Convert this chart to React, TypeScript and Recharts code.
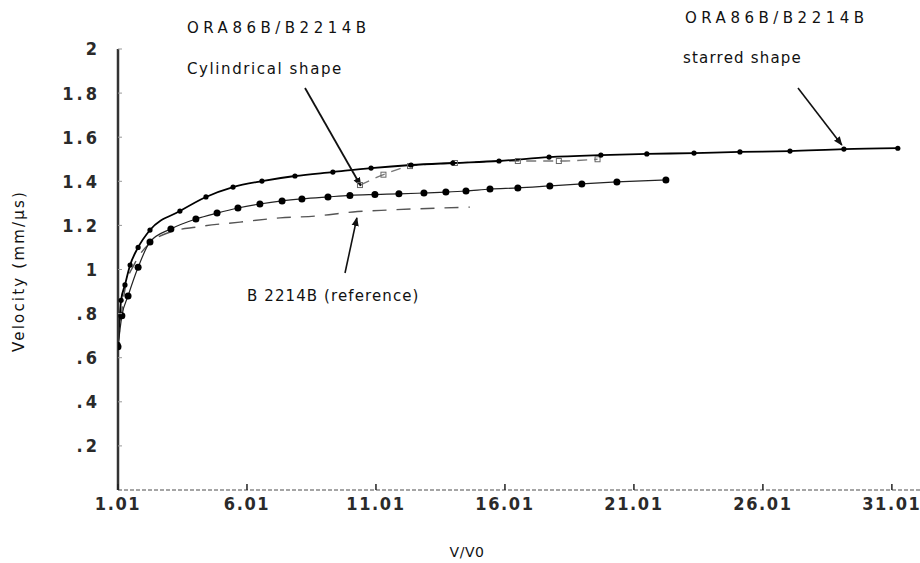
import React from "react";
import {
  ComposedChart,
  Line,
  XAxis,
  YAxis,
  ReferenceLine,
  Customized,
} from "recharts";

// ---- data ----
const xTicks = [1.01, 6.01, 11.01, 16.01, 21.01, 26.01, 31.01];
const xTickLabels = ["1.01", "6.01", "11.01", "16.01", "21.01", "26.01", "31.01"];
const yTicks = [0.2, 0.4, 0.6, 0.8, 1, 1.2, 1.4, 1.6, 1.8, 2];
const yTickLabels = [".2", ".4", ".6", ".8", "1", "1.2", "1.4", "1.6", "1.8", "2"];

// ORA86B/B2214B starred shape (upper solid line, small dots)
const starredX = [1.01, 1.13, 1.28, 1.48, 1.79, 2.25, 3.41, 4.42, 5.47, 6.59, 7.87, 9.34, 10.82, 12.37, 13.99, 15.78, 17.72, 19.73, 21.51, 23.34, 25.12, 27.06, 29.15, 31.24];
const starredY = [0.66, 0.86, 0.93, 1.02, 1.1, 1.179, 1.265, 1.329, 1.374, 1.401, 1.424, 1.442, 1.46, 1.474, 1.483, 1.492, 1.51, 1.519, 1.524, 1.528, 1.533, 1.537, 1.546, 1.55];

// ORA86B/B2214B cylindrical shape (dashed, light)
const cylX = [10.39, 11.3, 12.33, 14.07, 16.51, 18.1, 19.6];
const cylY = [1.383, 1.43, 1.469, 1.483, 1.492, 1.492, 1.5];

// middle dotted curve
const midX = [1.01, 1.16, 1.4, 1.79, 2.25, 3.06, 4.03, 4.85, 5.66, 6.51, 7.37, 8.14, 9.15, 10.0, 10.97, 11.9, 12.87, 13.72, 14.5, 15.43, 16.51, 17.75, 18.99, 20.35, 22.25];
const midY = [0.65, 0.79, 0.88, 1.01, 1.125, 1.184, 1.229, 1.256, 1.279, 1.297, 1.311, 1.32, 1.329, 1.336, 1.34, 1.343, 1.347, 1.351, 1.356, 1.365, 1.37, 1.379, 1.388, 1.397, 1.406];

// B 2214B (reference), lower dashed curve
const refX = [1.01, 1.28, 1.67, 2.25, 3.03, 4.07, 5.74, 7.29, 8.72, 10.12, 11.55, 14.65];
const refY = [0.66, 0.91, 1.03, 1.12, 1.17, 1.193, 1.215, 1.234, 1.243, 1.261, 1.27, 1.283];

const toRows = (xs: number[], ys: number[]) => xs.map((x, i) => ({ x, y: ys[i] }));
const starredData = toRows(starredX, starredY);
const cylData = toRows(cylX, cylY);
const midData = toRows(midX, midY);
const refData = toRows(refX, refY);

const TICK_FONT = "'DejaVu Sans Condensed', 'Liberation Sans Narrow', sans-serif";
const TEXT_FONT = "'DejaVu Sans', sans-serif";
const X_MARGIN = 6;
const Y_MARGIN = 18;

const XTick = (props: any) => {
  const { x, y, index } = props;
  const ay = y - X_MARGIN;
  return (
    <g>
      <line x1={x} y1={ay} x2={x} y2={ay - 6} stroke="#222" strokeWidth={1.5} />
      <text
        x={x}
        y={y}
        dy="0.8em"
        textAnchor="middle"
        fontFamily={TICK_FONT}
        fontWeight="bold"
        fontSize={18}
        letterSpacing={1.6}
        fill="#2a2a2a"
      >
        {xTickLabels[index]}
      </text>
    </g>
  );
};

const YTick = (props: any) => {
  const { x, y, index } = props;
  const ax = x + Y_MARGIN;
  return (
    <g>
      <line x1={ax} y1={y} x2={ax + 4} y2={y} stroke="#999" strokeWidth={1} />
      <text
        x={x}
        y={y}
        dy="0.36em"
        textAnchor="end"
        fontFamily={TICK_FONT}
        fontWeight="bold"
        fontSize={18}
        letterSpacing={3}
        fill="#2a2a2a"
      >
        {yTickLabels[index]}
      </text>
    </g>
  );
};

const SquareDot = (props: any) => {
  const { cx, cy } = props;
  if (cx == null || cy == null) return null;
  return <rect x={cx - 2.5} y={cy - 2.5} width={5} height={5} fill="none" stroke="#666" strokeWidth={1} />;
};

const Annotations = () => (
  <g fontFamily={TEXT_FONT} fontSize={15} fill="#111">
    <text x={187} y={33} letterSpacing={4.5}>ORA86B/B2214B</text>
    <text x={187} y={74} letterSpacing={1.6}>Cylindrical shape</text>
    <text x={685} y={23} letterSpacing={4.5}>ORA86B/B2214B</text>
    <text x={683} y={63} letterSpacing={1.2}>starred shape</text>
    <text x={247} y={301} letterSpacing={1.1}>B 2214B (reference)</text>
    <text x={467} y={557} textAnchor="middle" fontSize={14} letterSpacing={0.5}>V/V0</text>
    <text
      x={0}
      y={0}
      transform="translate(24,271) rotate(-90)"
      textAnchor="middle"
      fontSize={15}
      letterSpacing={2.2}
    >
      Velocity (mm/µs)
    </text>
  </g>
);

export default function App() {
  return (
    <div style={{ position: "absolute", left: 0, top: 0, background: "#fff" }}>
      <svg width={0} height={0} style={{ position: "absolute" }}>
        <defs>
          <marker id="arrowHead" viewBox="0 0 10 10" refX="9" refY="5" markerWidth="9" markerHeight="9" orient="auto" markerUnits="userSpaceOnUse">
            <path d="M0,1 L10,5 L0,9 z" fill="#111" />
          </marker>
        </defs>
      </svg>
      <ComposedChart
        width={920}
        height={563}
        margin={{ top: 49, right: 0, bottom: 0, left: 0 }}
        style={{ background: "#fff" }}
      >
        <XAxis
          type="number"
          dataKey="x"
          domain={[1.01, 32.1]}
          ticks={xTicks}
          allowDataOverflow
          tickSize={0}
          tickMargin={X_MARGIN}
          tickLine={false}
          axisLine={{ stroke: "#888", strokeWidth: 1.5, strokeDasharray: "4 2" }}
          tick={<XTick />}
          interval={0}
          height={73}
        />
        <YAxis
          type="number"
          dataKey="y"
          domain={[0, 2]}
          ticks={yTicks}
          allowDataOverflow
          tickSize={0}
          tickMargin={Y_MARGIN}
          tickLine={false}
          axisLine={{ stroke: "#333", strokeWidth: 2.5 }}
          tick={<YTick />}
          interval={0}
          width={118}
        />
        <Line
          data={refData}
          dataKey="y"
          type="monotone"
          stroke="#555"
          strokeWidth={1.4}
          strokeDasharray="14 10"
          dot={false}
          isAnimationActive={false}
        />
        <Line
          data={cylData}
          dataKey="y"
          type="monotone"
          stroke="#777"
          strokeWidth={1.3}
          strokeDasharray="10 7"
          dot={<SquareDot />}
          isAnimationActive={false}
        />
        <Line
          data={midData}
          dataKey="y"
          type="monotone"
          stroke="#222"
          strokeWidth={1.2}
          dot={{ r: 3.5, fill: "#000", stroke: "#000", strokeWidth: 0 }}
          isAnimationActive={false}
        />
        <Line
          data={starredData}
          dataKey="y"
          type="monotone"
          stroke="#000"
          strokeWidth={1.8}
          dot={{ r: 2.6, fill: "#000", stroke: "#000", strokeWidth: 0 }}
          isAnimationActive={false}
        />
        <ReferenceLine
          segment={[{ x: 8.26, y: 1.823 }, { x: 10.42, y: 1.38 }]}
          stroke="#111"
          strokeWidth={1.8}
          markerEnd="url(#arrowHead)"
          ifOverflow="visible"
        />
        <ReferenceLine
          segment={[{ x: 27.37, y: 1.823 }, { x: 29.07, y: 1.565 }]}
          stroke="#111"
          strokeWidth={1.6}
          markerEnd="url(#arrowHead)"
          ifOverflow="visible"
        />
        <ReferenceLine
          segment={[{ x: 9.81, y: 0.984 }, { x: 10.27, y: 1.234 }]}
          stroke="#111"
          strokeWidth={1.6}
          markerEnd="url(#arrowHead)"
          ifOverflow="visible"
        />
        <Customized component={Annotations} />
      </ComposedChart>
    </div>
  );
}
